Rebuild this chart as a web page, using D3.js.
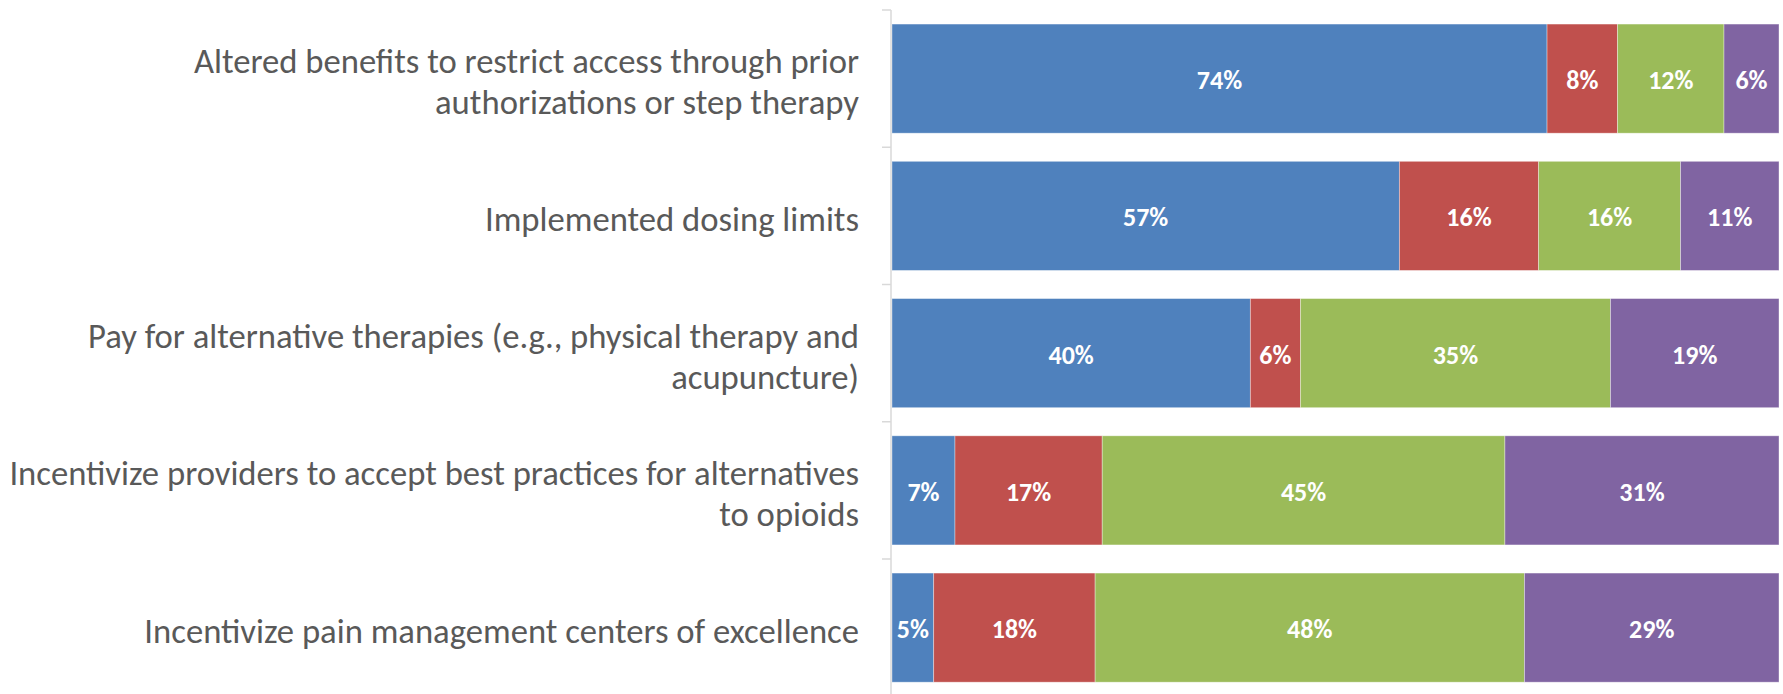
<!DOCTYPE html>
<html>
<head>
<meta charset="utf-8">
<script src="https://cdn.jsdelivr.net/npm/d3@7/dist/d3.min.js"></script>
<style>
  html, body { margin: 0; padding: 0; background: #fff; }
  svg { display: block; }
</style>
</head>
<body>
<svg id="chart" width="1783" height="694"></svg>
<script>
// ---- Data ----
const categories = [
  "Altered benefits to restrict access through prior\nauthorizations or step therapy",
  "Implemented dosing limits",
  "Pay for alternative therapies (e.g., physical therapy and\nacupuncture)",
  "Incentivize providers to accept best practices for alternatives\nto opioids",
  "Incentivize pain management centers of excellence"
];
const seriesNames = ["Series 1", "Series 2", "Series 3", "Series 4"];
const series1 = [73.85, 57.2, 40.4, 7.1, 4.7];
const series2 = [7.95, 15.7, 5.65, 16.6, 18.2];
const series3 = [12.0, 16.0, 34.95, 45.4, 48.4];
const series4 = [6.2, 11.1, 19.0, 30.9, 28.7];
const colors = ["#4F81BD", "#C0504D", "#9BBB59", "#8064A2"];

// ---- Layout ----
const W = 1783, H = 694;
const axisX = 891;
const svg = d3.select("#chart");

const table = categories.map((c, i) => ({
  cat: c,
  s0: series1[i], s1: series2[i], s2: series3[i], s3: series4[i]
}));
const keys = ["s0", "s1", "s2", "s3"];
const stacked = d3.stack().keys(keys)(table);

const x = d3.scaleLinear().domain([0, 100]).range([892, 1779]);
const y = d3.scaleBand().domain(categories).range([10, 696.25]).padding(0);
const barH = y.bandwidth() * 0.795;

// bars
const g = svg.append("g");
stacked.forEach((layer, li) => {
  const key = layer.key;
  const lg = g.append("g").attr("fill", colors[li]);
  lg.selectAll("rect").data(layer).join("rect")
    .attr("x", d => x(d[0]))
    .attr("width", d => x(d[1]) - x(d[0]))
    .attr("y", d => y(d.data.cat) + (y.bandwidth() - barH) / 2)
    .attr("height", barH)
    .attr("stroke", "rgba(255,255,255,0.45)")
    .attr("stroke-width", 0.8);
  lg.selectAll("text").data(layer).join("text")
    .attr("x", d => (x(d[0]) + x(d[1])) / 2)
    .attr("y", d => y(d.data.cat) + y.bandwidth() / 2 + 1.5)
    .attr("text-anchor", "middle")
    .attr("dominant-baseline", "central")
    .attr("fill", "#fff")
    .attr("font-family", "Carlito, Lato, 'Open Sans', sans-serif")
    .attr("font-weight", "bold")
    .attr("font-size", 26)
    .text(d => Math.round(d.data[key]) + "%");
});

// axis
const axis = d3.axisLeft(y).tickSize(0).tickFormat("");
const ag = svg.append("g").attr("transform", `translate(${axisX},0)`).call(axis);
ag.select(".domain").remove();
ag.append("line").attr("x1", 0).attr("x2", 0).attr("y1", 10).attr("y2", H)
  .attr("stroke", "#D9D9D9").attr("stroke-width", 1.5);
const boundaries = categories.map(c => y(c)).concat([y.range()[1]]);
ag.selectAll(".btick").data(boundaries).join("line")
  .attr("class", "btick")
  .attr("x1", -9).attr("x2", 0)
  .attr("y1", d => d).attr("y2", d => d)
  .attr("stroke", "#D9D9D9").attr("stroke-width", 1.5);

// category labels
const labelFont = "Carlito, Lato, 'Open Sans', sans-serif";
let fs = 33;
const lg = svg.append("g");
const labelRight = 859;
const texts = [];
categories.forEach(c => {
  const lines = c.split("\n");
  const t = lg.append("text")
    .attr("text-anchor", "end")
    .attr("fill", "#595959")
    .attr("font-family", labelFont)
    .attr("font-size", fs);
  lines.forEach((ln, i) => {
    t.append("tspan").attr("x", labelRight).text(ln);
  });
  texts.push({ t, c, n: lines.length });
});
// measure longest line and fit to reference width
let maxW = 0;
lg.selectAll("tspan").each(function () { maxW = Math.max(maxW, this.getComputedTextLength()); });
fs = fs * 850 / maxW;
texts.forEach(({ t, c, n }) => {
  t.attr("font-size", fs);
  const cy = y(c) + y.bandwidth() / 2;
  t.selectAll("tspan").attr("y", (d, i, nodes) => cy + 15 + (i - (n - 1) / 2) * 41);
});
</script>
</body>
</html>
